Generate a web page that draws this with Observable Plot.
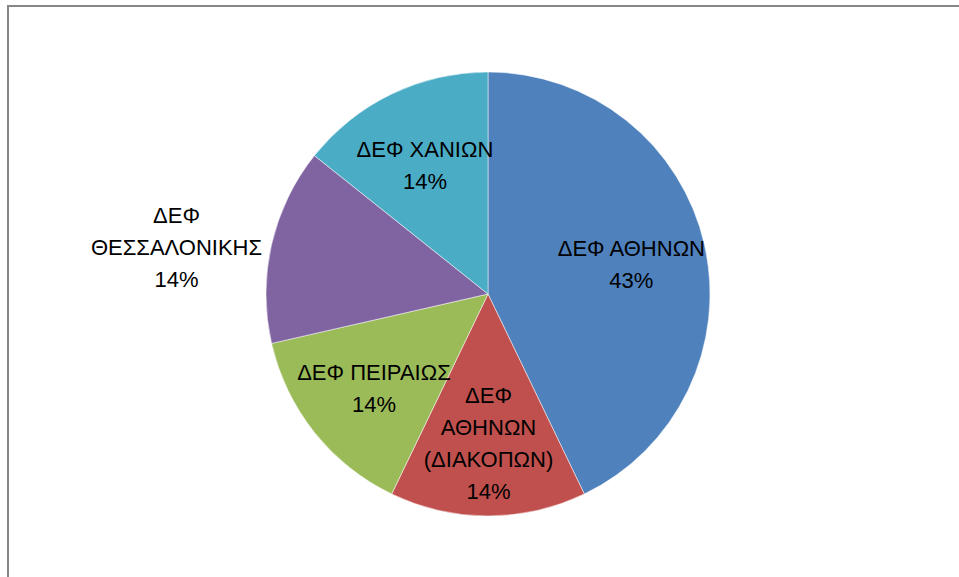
<!DOCTYPE html>
<html>
<head>
<meta charset="utf-8">
<script src="https://cdn.jsdelivr.net/npm/d3@7"></script>
<script src="https://cdn.jsdelivr.net/npm/@observablehq/plot@0.6"></script>
<style>
  html, body { margin: 0; padding: 0; background: #fff; overflow: hidden; }
  #wrap { position: relative; width: 959px; height: 577px; }
  #frame { position: absolute; left: 7px; top: 5px; width: 1000px; height: 1000px;
           border-left: 2px solid #878787; border-top: 2px solid #878787; pointer-events: none; }
</style>
</head>
<body>
<div id="wrap"><div id="frame"></div></div>
<script>
// Data
const categories = ["ΔΕΦ ΑΘΗΝΩΝ", "ΔΕΦ ΑΘΗΝΩΝ (ΔΙΑΚΟΠΩΝ)", "ΔΕΦ ΠΕΙΡΑΙΩΣ", "ΔΕΦ ΘΕΣΣΑΛΟΝΙΚΗΣ", "ΔΕΦ ΧΑΝΙΩΝ"];
const values = [3, 1, 1, 1, 1];
const labelLines = ["ΔΕΦ ΑΘΗΝΩΝ", "ΔΕΦ\nΑΘΗΝΩΝ\n(ΔΙΑΚΟΠΩΝ)", "ΔΕΦ ΠΕΙΡΑΙΩΣ", "ΔΕΦ\nΘΕΣΣΑΛΟΝΙΚΗΣ", "ΔΕΦ ΧΑΝΙΩΝ"];
const colors = ["#4F81BD", "#C0504D", "#9BBB59", "#8064A2", "#4BACC6"];

const FONT_SIZE = 22;
const FONT_FAMILY = "'Liberation Sans', Arial, sans-serif";
const cx = 488, cy = 294, R = 222;

const total = d3.sum(values);
const rows = categories.map((c, i) => ({category: c, value: values[i], label: labelLines[i]}));
const arcs = d3.pie().sort(null).value(d => d.value)(rows);

const ctx = document.createElement("canvas").getContext("2d");
ctx.font = `${FONT_SIZE}px ${FONT_FAMILY}`;
const textWidth = s => d3.max(s.split("\n"), l => ctx.measureText(l).width);

const outside = new Set(["ΔΕΦ ΘΕΣΣΑΛΟΝΙΚΗΣ"]);
const labels = arcs.map(a => {
  const mid = (a.startAngle + a.endAngle) / 2;
  const text = a.data.label + "\n" + Math.round(a.data.value / total * 100) + "%";
  if (outside.has(a.data.category)) {
    const halfW = textWidth(text) / 2;
    const px = Math.sin(mid) * R - 10 - halfW; // left of the slice edge
    return {x: px / R, y: Math.cos(mid), text};
  }
  const r = 0.66;
  return {x: r * Math.sin(mid), y: r * Math.cos(mid), text};
});

const pieMark = (index, scales) => {
  const x0 = scales.x(0), y0 = scales.y(0);
  const rad = scales.x(1) - scales.x(0);
  const arcGen = d3.arc().innerRadius(0).outerRadius(rad);
  const g = d3.create("svg:g").attr("transform", `translate(${x0},${y0})`);
  g.selectAll("path").data(arcs).join("path")
    .attr("d", arcGen)
    .attr("fill", (d, i) => colors[i])
    .attr("stroke", "#ffffff")
    .attr("stroke-width", 0.5);
  return g.node();
};

const chart = Plot.plot({
  width: 959,
  height: 577,
  margin: 0,
  x: {domain: [-1, 1], range: [cx - R, cx + R], axis: null},
  y: {domain: [-1, 1], range: [cy + R, cy - R], axis: null},
  style: {background: "transparent", fontFamily: FONT_FAMILY},
  marks: [
    pieMark,
    Plot.text(labels, {
      x: "x", y: "y", text: "text",
      fontSize: FONT_SIZE, lineHeight: 32 / FONT_SIZE, fill: "#000000",
      fontFamily: FONT_FAMILY
    })
  ]
});
document.getElementById("wrap").insertBefore(chart, document.getElementById("frame"));
</script>
</body>
</html>
